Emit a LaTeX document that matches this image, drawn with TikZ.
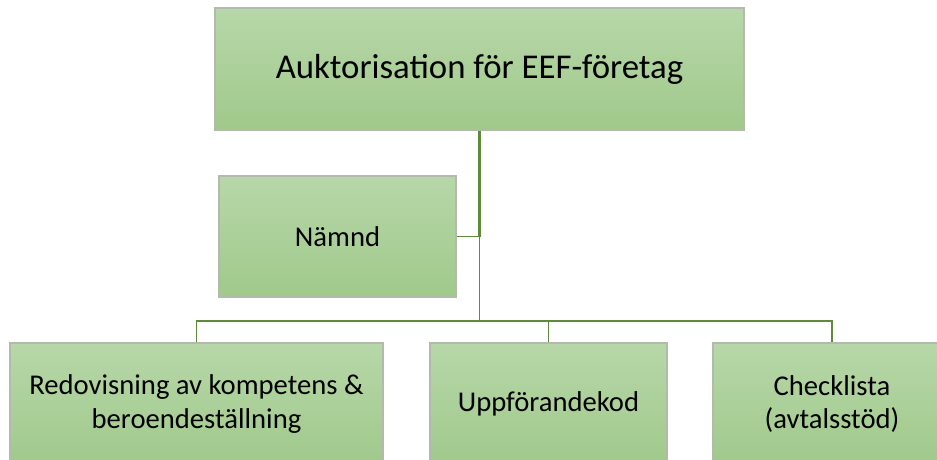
\documentclass[tikz,border=0pt]{standalone}
\usepackage{fontspec}
\setmainfont{Carlito}
\usepackage{tikz}
\usetikzlibrary{calc,positioning}

\definecolor{boxtop}{RGB}{183,215,168}
\definecolor{boxbot}{RGB}{160,201,139}
\definecolor{boxline}{RGB}{178,186,172}
\definecolor{linkgreen}{RGB}{92,140,58}

\begin{document}
\begin{tikzpicture}[x=0.02cm,y=-0.02cm,
    box/.style={draw=boxline,line width=0.8pt,top color=boxtop,bottom color=boxbot,align=center,inner sep=2pt,font=\fontsize{16.3}{19}\selectfont},
    link/.style={draw=linkgreen,line width=0.8pt},
    thicklink/.style={draw=linkgreen,line width=1.5pt}]
            \useasboundingbox (0,0) rectangle (937,460);
            \clip (0,0) rectangle (937,460);
            \node[box,minimum width=10.58cm,minimum height=2.44cm,font=\fontsize{19.8}{23}\selectfont] (top) at (479.5,69) {Auktorisation för EEF-företag};
            \node[box,minimum width=4.74cm,minimum height=2.42cm] (nmd) at (337.5,236.5) {Nämnd};

            \node[box,minimum width=7.46cm,minimum height=2.44cm] (b1) at (196.5,404) {Redovisning av kompetens \&\\beroendeställning};
            \node[box,minimum width=4.74cm,minimum height=2.44cm] (b2) at (548.5,404) {Uppförandekod};
            \node[box,minimum width=4.76cm,minimum height=2.44cm] (b3) at (832,404) {Checklista\\(avtalsstöd)};

            \coordinate (bus) at (top.south |- 0,321);
            \draw[thicklink] (top.south) -- (top.south |- nmd.east);
            \draw[link] (top.south |- nmd.east) -- (bus);
            \draw[link] (nmd.east) -- (nmd.east -| bus);
            \draw[link] (bus) -| (b1.north);
            \draw[link] (bus) -| (b2.north);
            \draw[link] (bus) -| (b3.north);
          \end{tikzpicture}
\end{document}
